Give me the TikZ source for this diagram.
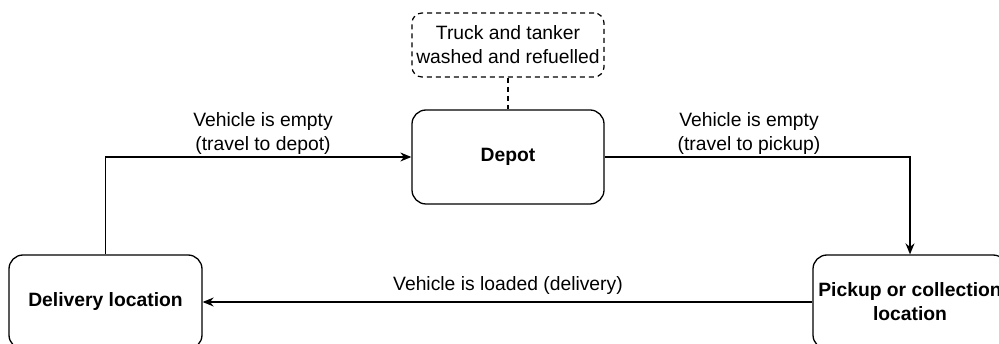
\documentclass[tikz,border=0pt]{standalone}
\usepackage{fontspec}
\setmainfont{Liberation Sans}
\usetikzlibrary{arrows.meta}
\begin{document}
\begin{tikzpicture}[x=1pt,y=-1pt,
  box/.style={draw, line width=1.3pt, rounded corners=14pt, align=center,
    font=\fontsize{19.3}{24}\selectfont\bfseries, inner sep=0pt},
  notebox/.style={draw, dash pattern=on 5pt off 4pt, line width=1.2pt, rounded corners=10pt, align=center,
    font=\fontsize{19.3}{24}\selectfont, inner sep=0pt},
  lbl/.style={align=center, font=\fontsize{19.3}{24}\selectfont, inner sep=0pt},
  conn/.style={line width=1.3pt, -{Stealth[length=11pt,width=9pt]}}]
\useasboundingbox (0,0) rectangle (999,344);
\node[notebox, minimum width=192pt, minimum height=64pt] (note) at (508,45) {Truck and tanker\\washed and refuelled};
\node[box, minimum width=192pt, minimum height=94pt] (depot) at (508,157) {Depot};
\node[box, minimum width=193pt, minimum height=94pt] (deliv) at (105.5,302) {Delivery location};
\node[box, minimum width=194pt, minimum height=94pt] (pick) at (910,302) {Pickup or collection\\location};
\draw[dash pattern=on 5pt off 4pt, line width=1.2pt] (note.south) -- (depot.north);
\draw[conn] (deliv.north) |- (depot.west);
\draw[conn] (depot.east) -| (pick.north);
\draw[conn] (pick.west) -- (deliv.east);
\node[lbl] (l1) at (263,134) {Vehicle is empty\\ (travel to depot)};
\node[lbl] (l2) at (749,134) {Vehicle is empty\\(travel to pickup)};
\node[lbl] (l3) at (508,286) {Vehicle is loaded (delivery)};
\end{tikzpicture}
\end{document}
